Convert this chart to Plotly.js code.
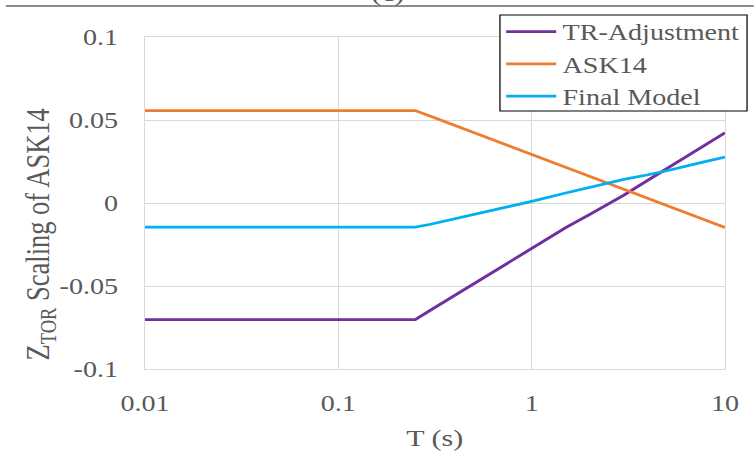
<!DOCTYPE html>
<html>
<head>
<meta charset="utf-8">
<script src="https://cdn.plot.ly/plotly-3.0.1.min.js"></script>
<style>
  html, body { margin: 0; padding: 0; overflow: hidden; background: #fff; }
  /* the figure is laid out narrow and widened horizontally */
  #chart { width: 603px; height: 457px; transform: scaleX(1.25); transform-origin: 0 0; }
</style>
</head>
<body>
<div id="chart"></div>
<script>
// Spectral periods (s)
const periods = [0.01, 0.25, 0.3, 0.4, 0.5, 0.75, 1, 1.5, 2, 3, 4, 5, 7.5, 10];

// Z_TOR scaling terms
const trAdjustment = [-0.0702, -0.0702, -0.0645, -0.0556, -0.0488, -0.0365, -0.0272, -0.0149, -0.0069, 0.0047, 0.0138, 0.0207, 0.0331, 0.0423];
const ask14        = [0.0557, 0.0557, 0.0522, 0.0467, 0.0424, 0.0347, 0.0292, 0.0215, 0.0160, 0.0083, 0.0028, -0.0015, -0.0092, -0.0148];
const finalModel   = [-0.0145, -0.0145, -0.0128, -0.0095, -0.0068, -0.0025, 0.0010, 0.0060, 0.0094, 0.0142, 0.0170, 0.0194, 0.0243, 0.0277];

const seriesNames = ['TR-Adjustment', 'ASK14', 'Final Model'];
const seriesColors = ['#7030A0', '#ED7D31', '#00B0F0'];

const xTickVals = [0.01, 0.1, 1, 10];
const xTickText = ['0.01', '0.1', '1', '10'];
const yTickVals = [-0.1, -0.05, 0, 0.05, 0.1];
const yTickText = ['-0.1', '-0.05', '0', '0.05', '0.1'];

const FONT = 'Liberation Serif';
const TEXT = '#595959';
const GRID = '#d9d9d9';

const values = [trAdjustment, ask14, finalModel];
const traces = values.map((v, i) => ({
  x: periods,
  y: v,
  name: seriesNames[i],
  type: 'scatter',
  mode: 'lines',
  line: { color: seriesColors[i], width: 2.75 }
}));

const layout = {
  width: 603,
  height: 457,
  margin: { l: 116, r: 23, t: 37, b: 88, autoexpand: false },
  paper_bgcolor: '#fff',
  plot_bgcolor: '#fff',
  font: { family: FONT, size: 22.5, color: TEXT },
  showlegend: true,
  legend: {
    x: 0.612, y: 1.08, xanchor: 'left', yanchor: 'top',
    bgcolor: 'rgba(0,0,0,0)', borderwidth: 0,
    itemwidth: 40,
    font: { family: FONT, size: 22.5, color: TEXT },
    tracegroupgap: 0
  },
  xaxis: {
    type: 'log',
    range: [-2, 1],
    tickvals: xTickVals,
    ticktext: xTickText,
    ticks: '',
    ticklabelstandoff: 14,
    showgrid: true,
    gridcolor: GRID,
    gridwidth: 1,
    showline: true,
    linecolor: GRID,
    linewidth: 1,
    mirror: true,
    zeroline: false,
    tickfont: { family: FONT, size: 22.5, color: TEXT }
  },
  yaxis: {
    range: [-0.1, 0.1],
    tickvals: yTickVals,
    ticktext: yTickText,
    ticks: '',
    ticklabelstandoff: 16,
    showgrid: true,
    gridcolor: GRID,
    gridwidth: 1,
    showline: true,
    linecolor: GRID,
    linewidth: 1,
    mirror: true,
    zeroline: false,
    tickfont: { family: FONT, size: 22.5, color: TEXT }
  },
  shapes: [
    {
      // rule across the top of the figure
      type: 'line', xref: 'paper', yref: 'paper',
      x0: -0.24, x1: 1.05, y0: 1.0934, y1: 1.0934,
      line: { color: '#666', width: 1.5 }
    },
    {
      // legend frame
      type: 'rect', xref: 'paper', yref: 'paper', layer: 'above',
      x0: 0.612, x1: 1.038, y0: 0.777, y1: 1.066,
      fillcolor: '#fff', line: { color: '#000', width: 1 }
    }
  ],
  annotations: [
    {
      text: 'T (s)', xref: 'paper', yref: 'paper',
      x: 0.5, y: -0.208, xanchor: 'center', yanchor: 'middle',
      showarrow: false, font: { family: FONT, size: 24, color: TEXT }
    },
    {
      text: 'Z<sub>TOR</sub> Scaling of ASK14', xref: 'paper', yref: 'paper',
      x: -0.181, y: 0.405, xanchor: 'center', yanchor: 'middle', textangle: -90,
      showarrow: false, font: { family: FONT, size: 26.5, color: TEXT }
    },
    {
      text: '(c)', xref: 'paper', yref: 'paper',
      x: 0.419, y: 1.087, xanchor: 'center', yanchor: 'bottom',
      showarrow: false, font: { family: FONT, size: 24, color: TEXT }
    }
  ]
};

Plotly.newPlot('chart', traces, layout, { displayModeBar: false, staticPlot: true });
</script>
</body>
</html>
